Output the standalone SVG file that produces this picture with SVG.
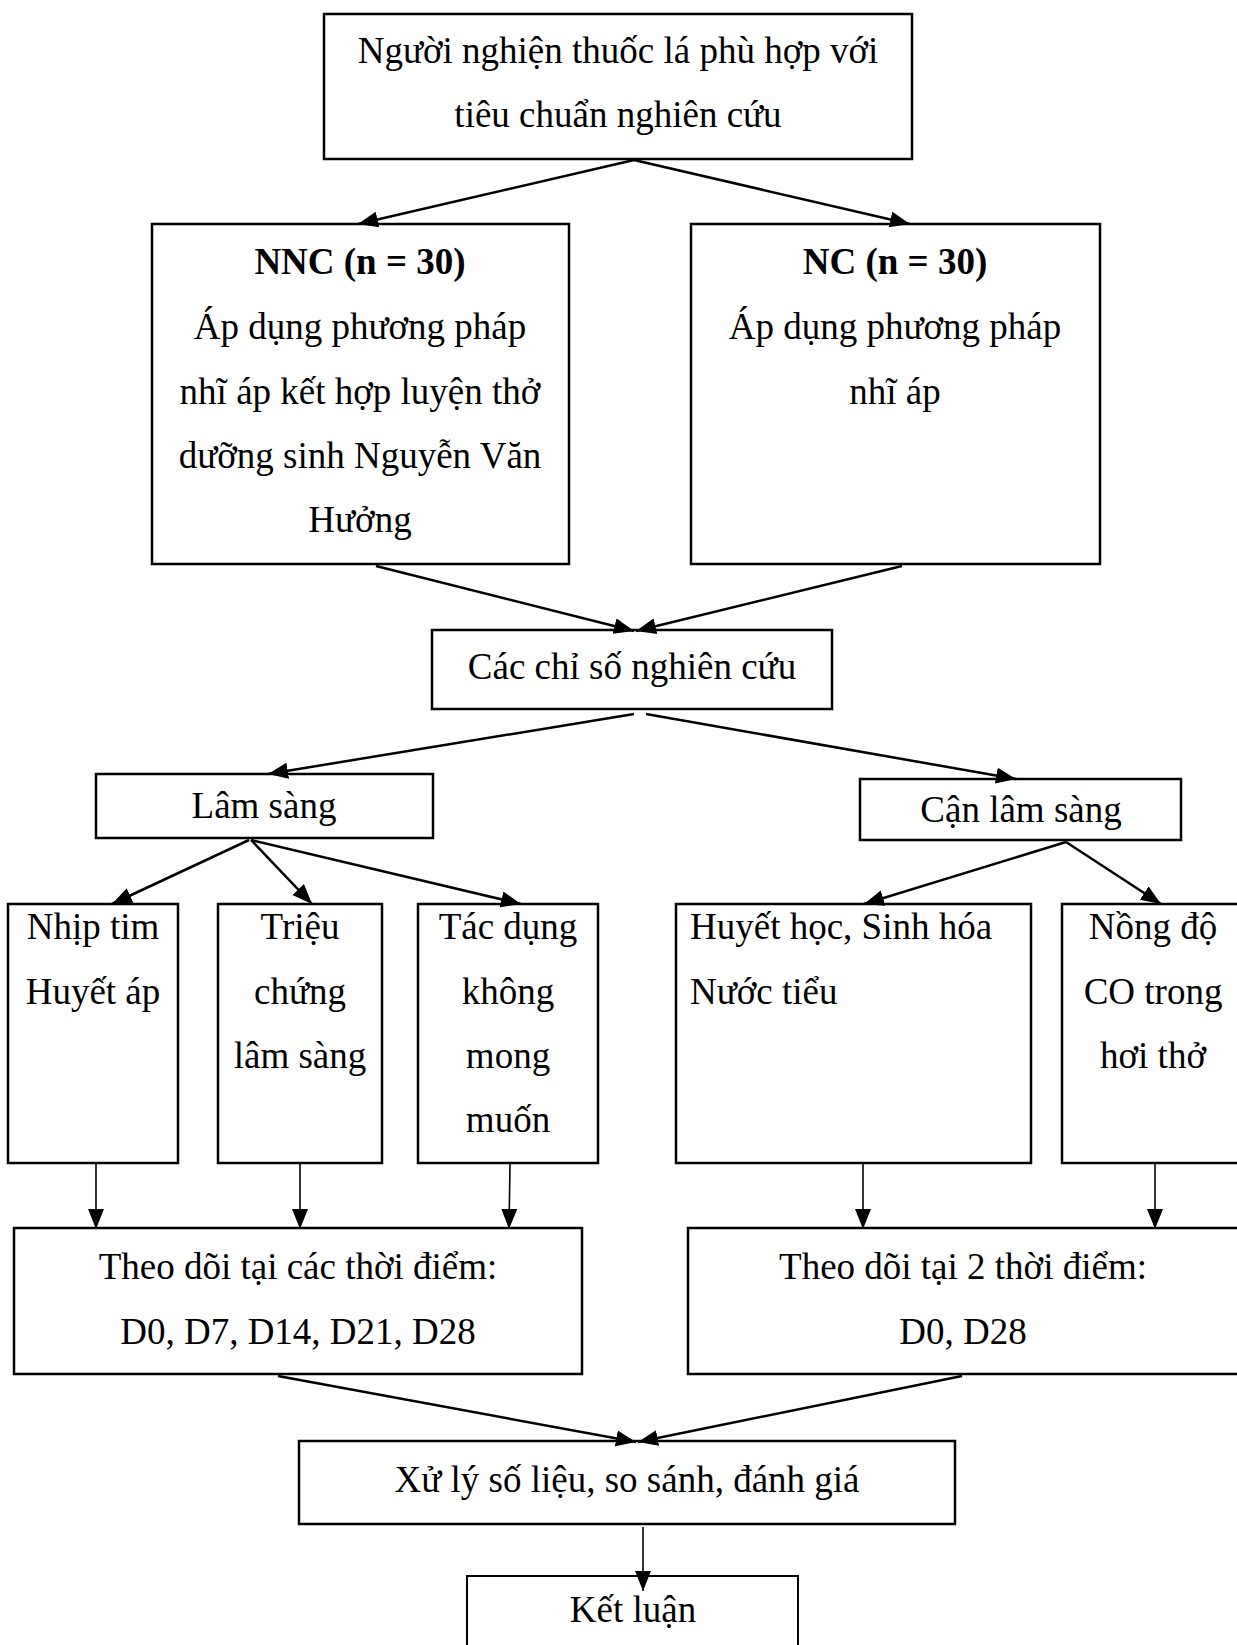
<svg xmlns="http://www.w3.org/2000/svg" width="1237" height="1645" viewBox="0 0 1237 1645">
<style>
.box{fill:#fff;stroke:#000;stroke-width:2.5}
.t{font-family:"Liberation Serif","Times New Roman",serif;font-size:37px;fill:#000;text-anchor:middle}
.tl{text-anchor:start}
.b{font-weight:bold}
.c{fill:none;stroke:#000;stroke-width:2.5}
.v{fill:none;stroke:#000;stroke-width:1.6}
</style>
<defs>
<marker id="ah" markerUnits="userSpaceOnUse" markerWidth="22" markerHeight="18" refX="20" refY="8" orient="auto">
<path d="M0,0 L20,8 L0,16 z" fill="#000"/>
</marker>
</defs>
<rect width="1237" height="1645" fill="#fff"/>
<g id="n-top">
<rect class="box" x="324" y="14" width="588" height="145"/>
<text class="t" x="618" y="63">Người nghiện thuốc lá phù hợp với</text>
<text class="t" x="618" y="127">tiêu chuẩn nghiên cứu</text>
</g>
<g id="n-nnc">
<rect class="box" x="152" y="224" width="417" height="340"/>
<text class="t b" x="360" y="274">NNC (n = 30)</text>
<text class="t" x="360" y="339">Áp dụng phương pháp</text>
<text class="t" x="360" y="404">nhĩ áp kết hợp luyện thở</text>
<text class="t" x="360" y="468">dưỡng sinh Nguyễn Văn</text>
<text class="t" x="360" y="532">Hưởng</text>
</g>
<g id="n-nc">
<rect class="box" x="691" y="224" width="409" height="340"/>
<text class="t b" x="895" y="274">NC (n = 30)</text>
<text class="t" x="895" y="339">Áp dụng phương pháp</text>
<text class="t" x="895" y="404">nhĩ áp</text>
</g>
<g id="n-chiso">
<rect class="box" x="432" y="630" width="400" height="79"/>
<text class="t" x="632" y="679">Các chỉ số nghiên cứu</text>
</g>
<g id="n-lamsang">
<rect class="box" x="96" y="774" width="337" height="64"/>
<text class="t" x="264" y="818">Lâm sàng</text>
</g>
<g id="n-canlamsang">
<rect class="box" x="860" y="779" width="321" height="61"/>
<text class="t" x="1021" y="822">Cận lâm sàng</text>
</g>
<g id="n-nhiptim">
<rect class="box" x="8" y="904" width="170" height="259"/>
<text class="t" x="93" y="939">Nhịp tim</text>
<text class="t" x="93" y="1004">Huyết áp</text>
</g>
<g id="n-trieuchung">
<rect class="box" x="218" y="904" width="164" height="259"/>
<text class="t" x="300" y="939">Triệu</text>
<text class="t" x="300" y="1004">chứng</text>
<text class="t" x="300" y="1068">lâm sàng</text>
</g>
<g id="n-tacdung">
<rect class="box" x="418" y="904" width="180" height="259"/>
<text class="t" x="508" y="939">Tác dụng</text>
<text class="t" x="508" y="1004">không</text>
<text class="t" x="508" y="1068">mong</text>
<text class="t" x="508" y="1132">muốn</text>
</g>
<g id="n-huyethoc">
<rect class="box" x="676" y="904" width="355" height="259"/>
<text class="t tl" x="690" y="939">Huyết học, Sinh hóa</text>
<text class="t tl" x="690" y="1004">Nước tiểu</text>
</g>
<g id="n-co">
<rect class="box" x="1062" y="904" width="190" height="259"/>
<text class="t" x="1153" y="939">Nồng độ</text>
<text class="t" x="1153" y="1004">CO trong</text>
<text class="t" x="1153" y="1068">hơi thở</text>
</g>
<g id="n-theodoi1">
<rect class="box" x="14" y="1228" width="568" height="146"/>
<text class="t" x="298" y="1279">Theo dõi tại các thời điểm:</text>
<text class="t" x="298" y="1344">D0, D7, D14, D21, D28</text>
</g>
<g id="n-theodoi2">
<rect class="box" x="688" y="1228" width="560" height="146"/>
<text class="t" x="963" y="1279">Theo dõi tại 2 thời điểm:</text>
<text class="t" x="963" y="1344">D0, D28</text>
</g>
<g id="n-xuly">
<rect class="box" x="299" y="1441" width="656" height="83"/>
<text class="t" x="627" y="1492">Xử lý số liệu, so sánh, đánh giá</text>
</g>
<g id="n-ketluan">
<rect class="box" x="467" y="1576" width="331" height="80" style="stroke-width:2"/>
<text class="t" x="633" y="1622">Kết luận</text>
</g>
<g id="connectors">
<line class="c" x1="634" y1="160" x2="358" y2="224" marker-end="url(#ah)"/>
<line class="c" x1="634" y1="160" x2="910" y2="224" marker-end="url(#ah)"/>
<line class="c" x1="376" y1="566" x2="634" y2="631" marker-end="url(#ah)"/>
<line class="c" x1="902" y1="566" x2="636" y2="631" marker-end="url(#ah)"/>
<line class="c" x1="634" y1="714" x2="268" y2="774" marker-end="url(#ah)"/>
<line class="c" x1="646" y1="714" x2="1016" y2="779" marker-end="url(#ah)"/>
<line class="c" x1="249" y1="840" x2="112" y2="904" marker-end="url(#ah)"/>
<line class="c" x1="251" y1="840" x2="312" y2="904" marker-end="url(#ah)"/>
<line class="c" x1="251" y1="840" x2="521" y2="904" marker-end="url(#ah)"/>
<line class="c" x1="1066" y1="842" x2="864" y2="904" marker-end="url(#ah)"/>
<line class="c" x1="1066" y1="842" x2="1161" y2="904" marker-end="url(#ah)"/>
<line class="v" x1="96" y1="1164" x2="96" y2="1229" marker-end="url(#ah)"/>
<line class="v" x1="300" y1="1164" x2="300" y2="1229" marker-end="url(#ah)"/>
<line class="v" x1="510" y1="1164" x2="509" y2="1229" marker-end="url(#ah)"/>
<line class="v" x1="863" y1="1164" x2="863" y2="1229" marker-end="url(#ah)"/>
<line class="v" x1="1155" y1="1164" x2="1155" y2="1229" marker-end="url(#ah)"/>
<line class="c" x1="278" y1="1376" x2="636" y2="1442" marker-end="url(#ah)"/>
<line class="c" x1="962" y1="1376" x2="638" y2="1442" marker-end="url(#ah)"/>
<line class="v" x1="643" y1="1527" x2="643" y2="1591" marker-end="url(#ah)"/>
</g>
</svg>
